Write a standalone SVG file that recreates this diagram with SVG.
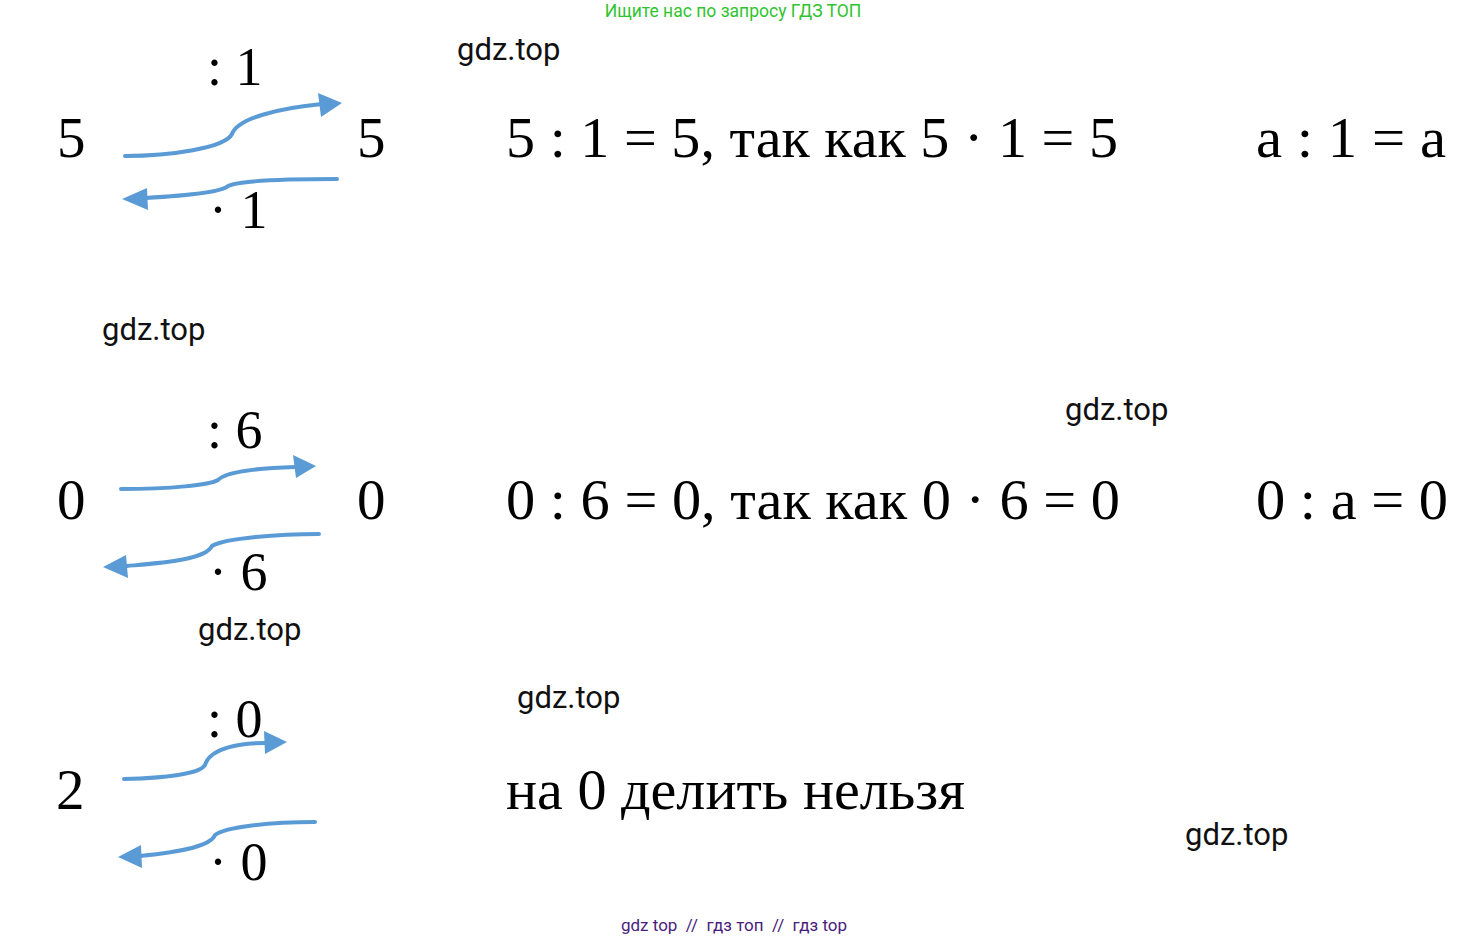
<svg xmlns="http://www.w3.org/2000/svg" width="1469" height="940" viewBox="0 0 1469 940">
<style>
.m{font-family:"Liberation Serif","Times New Roman",serif;font-size:57px;fill:#000}
.l{font-family:"Liberation Serif","Times New Roman",serif;font-size:54px;fill:#000}
.w{font-family:Roboto,"Liberation Sans",sans-serif;font-size:31px;fill:#111}
.c{fill:none;stroke:#5b9bd5;stroke-width:4;stroke-linecap:round}
.h{fill:#5b9bd5}
</style>
<rect width="1469" height="940" fill="#fff"/>
<text x="733" y="17" text-anchor="middle" font-family="Roboto,'Liberation Sans',sans-serif" font-size="17.5" fill="#2fc42f">Ищите нас по запросу ГДЗ ТОП</text>
<text x="734" y="931" text-anchor="middle" font-family="Roboto,'Liberation Sans',sans-serif" font-size="17" fill="#4a1d7c" xml:space="preserve">gdz top  //  гдз топ  //  гдз top</text>
<g id="watermarks">
<text class="w" x="457" y="60">gdz.top</text>
<text class="w" x="102" y="340">gdz.top</text>
<text class="w" x="1065" y="420">gdz.top</text>
<text class="w" x="198" y="640">gdz.top</text>
<text class="w" x="517" y="708">gdz.top</text>
<text class="w" x="1185" y="845">gdz.top</text>
</g>
<g id="row1">
<text class="m" x="57" y="157">5</text>
<text class="m" x="357" y="157">5</text>
<text class="l" x="207" y="85">: 1</text>
<text class="l" x="209" y="228">· 1</text>
<text class="m" x="506" y="157" textLength="612" lengthAdjust="spacingAndGlyphs">5 : 1 = 5, так как 5 · 1 = 5</text>
<text class="m" x="1256" y="157" textLength="190" lengthAdjust="spacingAndGlyphs">a : 1 = a</text>
</g>
<g id="row2">
<text class="m" x="57" y="519">0</text>
<text class="m" x="357" y="519">0</text>
<text class="l" x="207" y="448">: 6</text>
<text class="l" x="209" y="590">· 6</text>
<text class="m" x="506" y="519" textLength="614" lengthAdjust="spacingAndGlyphs">0 : 6 = 0, так как 0 · 6 = 0</text>
<text class="m" x="1256" y="519" textLength="192" lengthAdjust="spacingAndGlyphs">0 : a = 0</text>
</g>
<g id="row3">
<text class="m" x="56" y="809">2</text>
<text class="l" x="207" y="737">: 0</text>
<text class="l" x="209" y="880">· 0</text>
<text class="m" x="506" y="809" textLength="459" lengthAdjust="spacingAndGlyphs">на 0 делить нельзя</text>
</g>
<g id="connectors">
<path class="c" d="M125,156 C170,156 225,148 232,134 C238,118 280,108 322,104"/>
<polygon class="h" points="342,103 318,93 321,117"/>
<path class="c" d="M337,179 C300,179 240,180 228,186 C222,192 180,196 145,198"/>
<polygon class="h" points="122,199 147,188 148,210"/>
<path class="c" d="M121,489 C170,489 210,485 218,480 C225,472 260,468 295,467"/>
<polygon class="h" points="316,466 293,455 296,478"/>
<path class="c" d="M319,534 C280,534 225,538 212,546 C205,560 160,563 127,566"/>
<polygon class="h" points="103,567 126,555 128,578"/>
<path class="c" d="M124,779 C165,778 200,774 205,765 C210,748 240,743 265,743"/>
<polygon class="h" points="287,742 264,731 265,754"/>
<path class="c" d="M315,822 C270,822 225,827 215,835 C210,848 170,853 140,856"/>
<polygon class="h" points="118,857 141,845 142,868"/>
</g>
</svg>
